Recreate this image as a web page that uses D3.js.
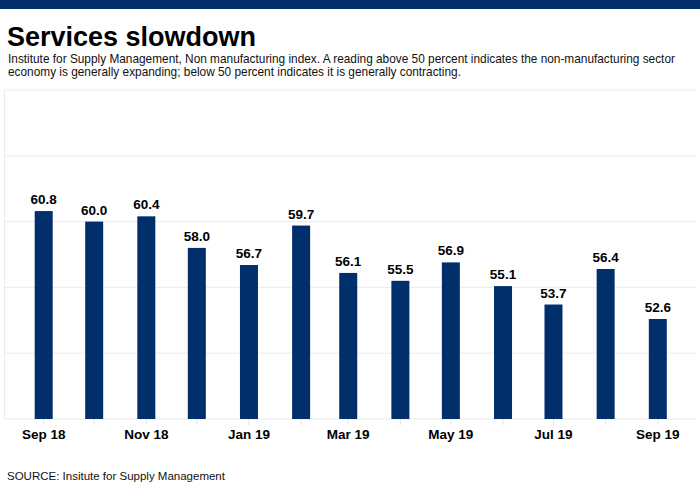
<!DOCTYPE html>
<html lang="en">
<head>
    <meta charset="UTF-8">
    <title>Services slowdown</title>
    <script src="https://d3js.org/d3.v7.min.js"></script>
    <style>
        body { margin: 0; background: #fff; }
        text { font-family: 'Liberation Sans', Arial, sans-serif; }
    </style>
</head>
<body>
<script>
    const width  = 700;
    const height = 500;

    const months = ["2018-09", "2018-10", "2018-11", "2018-12", "2019-01", "2019-02", "2019-03",
                    "2019-04", "2019-05", "2019-06", "2019-07", "2019-08", "2019-09"];
    const values = [60.8, 60.0, 60.4, 58.0, 56.7, 59.7, 56.1, 55.5, 56.9, 55.1, 53.7, 56.4, 52.6];
    const yTicks = [45, 50, 55, 60, 65, 70];

    const parse = d3.timeParse("%Y-%m");
    const data = months.map((m, i) => ({date: parse(m), value: values[i]}));

    const navy = "#002f6c";

    const x = d3.scaleTime()
            .domain([new Date(2018, 7, 9), new Date(2019, 8, 24)])
            .range([4.5, 696]);

    const y = d3.scaleLinear()
            .domain([45, 70])
            .range([419, 90]);

    const svg = d3.select("body")
            .append("svg")
            .attr("width", width)
            .attr("height", height);

    svg.append("rect")
            .attr("width", width)
            .attr("height", 9)
            .attr("fill", navy);

    svg.append("text")
            .attr("x", 7)
            .attr("y", 46)
            .style("font-size", "27px")
            .style("font-weight", "bold")
            .text("Services slowdown");

    const sub = svg.append("text")
            .attr("x", 8)
            .style("font-size", "11.85px")
            .style("fill", "#111");
    sub.append("tspan").attr("x", 8).attr("y", 63)
            .text("Institute for Supply Management, Non manufacturing index. A reading above 50 percent indicates the non-manufacturing sector");
    sub.append("tspan").attr("x", 8).attr("y", 76)
            .text("economy is generally expanding; below 50 percent indicates it is generally contracting.");

    // gridlines
    svg.append("g")
            .selectAll("line")
            .data(yTicks)
            .enter().append("line")
            .attr("x1", x.range()[0])
            .attr("x2", x.range()[1])
            .attr("y1", d => y(d))
            .attr("y2", d => y(d))
            .attr("stroke", "#ebebeb")
            .attr("stroke-width", 1);

    svg.append("line")
            .attr("x1", x.range()[0]).attr("x2", x.range()[0])
            .attr("y1", y(70)).attr("y2", y(45))
            .attr("stroke", "#ebebeb");

    // x axis
    const xAxis = svg.append("g")
            .attr("transform", "translate(0," + y(45) + ")")
            .call(d3.axisBottom(x)
                .ticks(d3.timeMonth.every(1))
                .tickSize(6)
                .tickFormat((d, i) => i % 2 === 0 ? d3.timeFormat("%b %y")(d) : ""));
    xAxis.select(".domain").remove();
    xAxis.selectAll("line").attr("stroke", "#e3e3e3");
    xAxis.selectAll("text")
            .attr("dy", 0)
            .attr("y", 20)
            .style("font-family", "'Liberation Sans', Arial, sans-serif")
            .style("font-size", "13.5px")
            .style("font-weight", "bold")
            .style("fill", "#000");

    const barW = 18;
    svg.append("g")
            .selectAll("rect")
            .data(data)
            .enter().append("rect")
            .attr("x", d => x(d.date) - barW / 2 + 0.5)
            .attr("y", d => y(d.value))
            .attr("width", barW)
            .attr("height", d => y(45) - y(d.value))
            .attr("fill", navy);

    svg.append("g")
            .selectAll("text")
            .data(data)
            .enter().append("text")
            .attr("x", d => x(d.date) + 0.5)
            .attr("y", d => y(d.value) - 7)
            .attr("text-anchor", "middle")
            .style("font-size", "13.5px")
            .style("font-weight", "bold")
            .text(d => d.value.toFixed(1));

    svg.append("text")
            .attr("x", 7)
            .attr("y", 480)
            .style("font-size", "11.5px")
            .style("fill", "#111")
            .text("SOURCE: Insitute for Supply Management");
</script>
</body>
</html>
